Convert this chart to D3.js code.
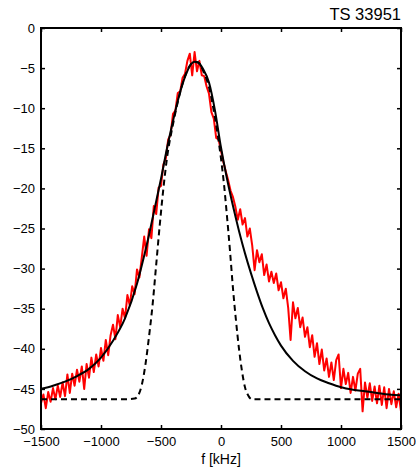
<!DOCTYPE html>
<html>
<head>
<meta charset="utf-8">
<script src="https://cdn.jsdelivr.net/npm/d3@7"></script>
<style>
    body { margin: 0; background: white; }
    text { font-family: "Liberation Sans", Arial, sans-serif; }
</style>
</head>
<body>
<div id="chart"></div>
<script>
//// Data

// measured spectrum, 20 kHz steps from -1500 to 1500
const spectrum_start = -1500
const spectrum_step = 20
const spectrum_db = [
    -46.8, -45.7, -47.4, -45.4, -46.6, -44.9, -46.3, -44.6, -46.0, -44.2,
    -45.9, -43.2, -45.5, -43.1, -44.6, -42.6, -44.1, -42.2, -45.0, -41.9,
    -43.6, -41.1, -42.9, -40.7, -42.2, -39.9, -41.5, -38.9, -40.8, -38.3,
    -37.0, -38.8, -35.8, -37.3, -35.0, -36.2, -33.3, -34.6, -32.2, -33.2,
    -30.1, -31.1, -28.6, -26.0, -28.4, -25.1, -26.2, -22.2, -23.2, -19.9,
    -19.7, -17.0, -16.3, -13.9, -13.3, -10.7, -10.3, -8.1, -7.9, -6.2,
    -5.7, -4.1, -3.2, -5.9, -3.0, -5.4, -4.1, -5.9, -6.0, -7.3,
    -8.2, -10.5, -11.3, -13.7, -13.9, -15.3, -16.7, -17.9, -19.0, -20.3,
    -21.1, -22.3, -23.9, -22.6, -24.5, -23.7, -26.0, -25.0, -27.1, -30.2,
    -27.7, -29.2, -28.2, -30.8, -29.5, -31.6, -30.4, -31.8, -30.6, -32.7,
    -31.7, -33.7, -32.5, -34.9, -38.9, -34.2, -36.2, -34.9, -37.3, -36.1,
    -38.5, -37.3, -39.8, -38.3, -41.0, -39.3, -41.9, -40.1, -42.7, -41.2,
    -43.5, -41.7, -43.9, -41.4, -40.7, -44.9, -42.5, -44.4, -43.0, -45.5,
    -43.5, -45.2, -43.1, -42.5, -47.8, -44.2, -46.1, -44.3, -46.5, -44.7,
    -46.8, -44.6, -47.0, -44.8, -47.4, -45.0, -46.9, -45.3, -47.3, -45.6,
    -47.8
]

// fitted spectrum (solid line)
const fit_f = [-1500, -1400, -1300, -1200, -1100, -1000, -900, -800, -700, -650,
    -600, -550, -500, -450, -400, -350, -300, -250, -220, -190,
    -150, -100, -50, 0, 50, 100, 150, 200, 250, 300,
    350, 400, 450, 500, 600, 700, 800, 900, 1000, 1100,
    1200, 1300, 1400, 1500]
const fit_db = [-45.0, -44.6, -44.1, -43.4, -42.5, -41.1, -39.0, -36.2, -31.9, -29.0,
    -25.8, -22.3, -18.8, -15.0, -11.6, -8.5, -6.1, -4.5, -4.2, -4.3,
    -5.1, -6.8, -10.3, -14.9, -18.8, -22.2, -25.3, -28.1, -30.6, -32.9,
    -35.0, -36.8, -38.3, -39.6, -41.5, -42.8, -43.7, -44.3, -44.8, -45.1,
    -45.3, -45.5, -45.7, -45.8]

// instrument-only spectrum (dashed line)
const inst_f = [-1500, -800, -720, -690, -660, -630, -600, -570, -540, -510,
    -480, -450, -400, -350, -300, -250, -220, -190, -150, -100,
    -50, 0, 25, 50, 75, 100, 125, 150, 175, 200,
    230, 260, 1500]
const inst_db = [-46.3, -46.3, -46.2, -45.8, -44.5, -42.0, -38.5, -34.5, -29.5, -24.5,
    -20.0, -16.2, -12.0, -8.6, -6.0, -4.5, -4.2, -4.3, -5.3, -7.4,
    -11.2, -16.3, -19.5, -23.5, -27.8, -32.5, -36.5, -40.0, -42.8, -44.8,
    -45.9, -46.3, -46.3]

const x_ticks = [-1500, -1000, -500, 0, 500, 1000, 1500]
const y_ticks = [0, -5, -10, -15, -20, -25, -30, -35, -40, -45, -50]
const title_text = "TS 33951"
const x_label = "f [kHz]"

//// Chart
var margin = {top: 28, right: 15, bottom: 44, left: 41},
    width = 416 - margin.left - margin.right,
    height = 473 - margin.top - margin.bottom

var root = d3.select("#chart")
    .append("svg")
        .attr("width", 416)
        .attr("height", 473)

var svg = root
    .append("g")
        .attr("transform", "translate(" + margin.left + "," + margin.top + ")")

var x = d3.scaleLinear()
    .domain([-1500, 1500])
    .range([0, width])

var y = d3.scaleLinear()
    .domain([-50, 0])
    .range([height, 0])

svg.append("clipPath")
    .attr("id", "plot-clip")
    .append("rect")
        .attr("width", width)
        .attr("height", height)

var spectrum_points = spectrum_db.map(function(v, i) { return [spectrum_start + i * spectrum_step, v] })
var fit_points = fit_f.map(function(f, i) { return [f, fit_db[i]] })
var inst_points = inst_f.map(function(f, i) { return [f, inst_db[i]] })

var line_plain = d3.line()
    .x(d => x(d[0]))
    .y(d => y(d[1]))

var line_smooth = d3.line()
    .x(d => x(d[0]))
    .y(d => y(d[1]))
    .curve(d3.curveMonotoneX)

var lines = svg.append("g").attr("clip-path", "url(#plot-clip)")

lines.append("path")
    .attr("d", line_plain(spectrum_points))
    .attr("fill", "none")
    .attr("stroke", "#ff0000")
    .attr("stroke-width", 2)
    .attr("stroke-linejoin", "round")

lines.append("path")
    .attr("d", line_smooth(inst_points))
    .attr("fill", "none")
    .attr("stroke", "black")
    .attr("stroke-width", 2)
    .attr("stroke-dasharray", "6,4")

lines.append("path")
    .attr("d", line_smooth(fit_points))
    .attr("fill", "none")
    .attr("stroke", "black")
    .attr("stroke-width", 2)

// Axes (MATLAB box style, ticks pointing in)
var tick_len = 4
var tick_fmt = d3.format("d")

svg.append("g")
    .attr("transform", "translate(0," + height + ")")
    .call(d3.axisBottom(x).tickValues(x_ticks).tickSize(-tick_len).tickPadding(8).tickFormat(tick_fmt))
svg.append("g")
    .call(d3.axisTop(x).tickValues(x_ticks).tickSize(-tick_len).tickFormat(""))
svg.append("g")
    .call(d3.axisLeft(y).tickValues(y_ticks).tickSize(-tick_len).tickPadding(6).tickFormat(tick_fmt))
svg.append("g")
    .attr("transform", "translate(" + width + ",0)")
    .call(d3.axisRight(y).tickValues(y_ticks).tickSize(-tick_len).tickFormat(""))

svg.selectAll(".domain").remove()
svg.selectAll(".tick line")
    .attr("stroke", "black")
    .attr("stroke-width", 1.5)
svg.selectAll(".tick text")
    .attr("fill", "black")
    .style("font-size", "13px")

svg.append("rect")
    .attr("width", width)
    .attr("height", height)
    .attr("fill", "none")
    .attr("stroke", "black")
    .attr("stroke-width", 2)

// Labels
svg.append("text")
    .attr("text-anchor", "middle")
    .attr("x", width / 2)
    .attr("y", height + 35)
    .style("font-size", "14px")
    .text(x_label)

svg.append("text")
    .attr("text-anchor", "end")
    .attr("x", width)
    .attr("y", -8)
    .style("font-size", "16.5px")
    .text(title_text)
</script>
</body>
</html>
